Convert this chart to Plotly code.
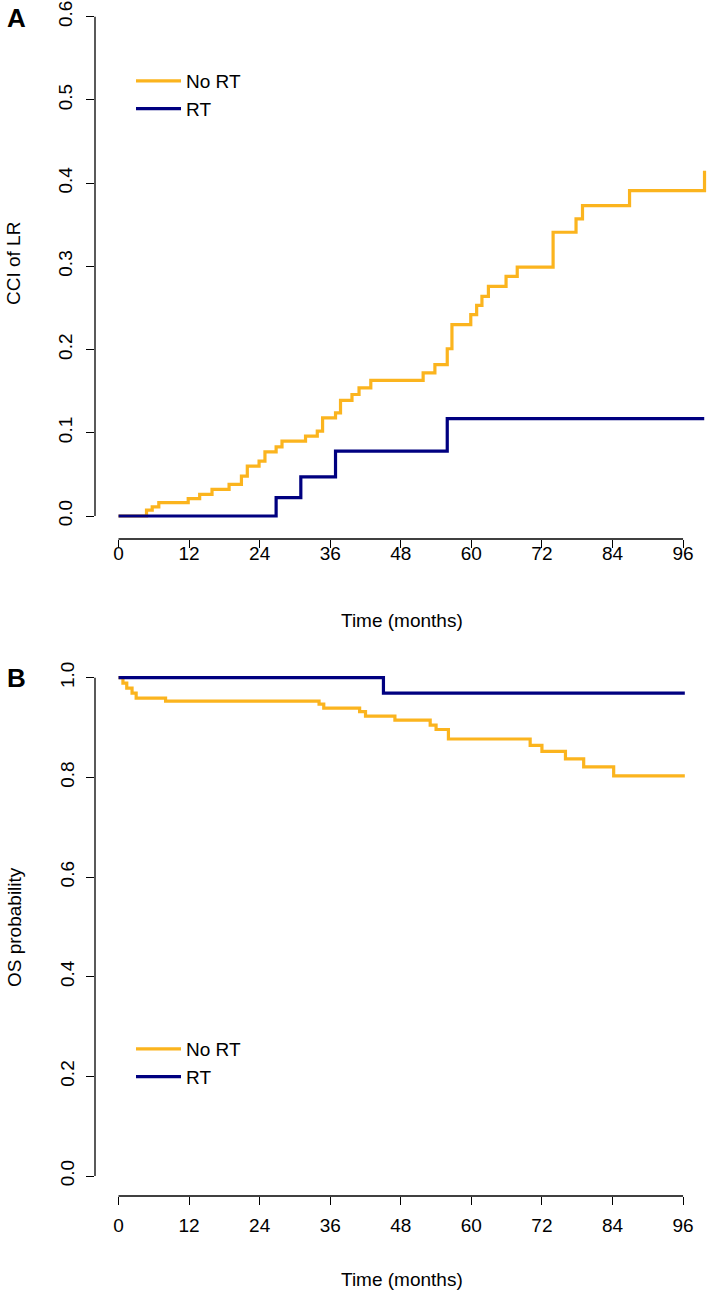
import plotly.graph_objects as go

# ---------------- data ----------------
# Panel A: cumulative incidence of local recurrence
a_norq_t = [0, 4.76, 5.73, 6.85, 11.85, 13.8, 15.9, 18.8, 20.9, 21.9, 23.9, 24.9, 26.8, 27.8,
            31.8, 33.8, 34.7, 36.9, 37.75, 39.7, 40.9, 42.9, 51.8, 53.8, 55.9, 56.7, 59.9,
            60.9, 61.8, 62.9, 65.9, 67.8, 73.9, 77.8, 78.9, 86.9, 99.65]
a_norq_y = [0, 0.007, 0.011, 0.016, 0.021, 0.026, 0.032, 0.038, 0.048, 0.060, 0.066, 0.077,
            0.083, 0.090, 0.096, 0.102, 0.118, 0.124, 0.139, 0.146, 0.154, 0.163, 0.172,
            0.182, 0.201, 0.230, 0.242, 0.253, 0.264, 0.276, 0.288, 0.299, 0.341, 0.357,
            0.373, 0.391, 0.415]
a_rt_t = [0, 26.8, 31.0, 36.9, 55.9, 99.6]
a_rt_y = [0, 0.022, 0.047, 0.078, 0.117, 0.117]

# Panel B: overall survival
b_norq_t = [0, 0.75, 1.4, 2.3, 3.0, 8.0, 34.1, 34.9, 41.0, 42.0, 47.0, 53.0, 54.0, 56.1,
            70.0, 72.0, 76.0, 79.1, 84.2, 96.3]
b_norq_y = [1.0, 0.989, 0.979, 0.969, 0.959, 0.953, 0.947, 0.939, 0.932, 0.923, 0.915,
            0.905, 0.896, 0.877, 0.864, 0.852, 0.837, 0.821, 0.803, 0.803]
b_rt_t = [0, 45.05, 96.3]
b_rt_y = [1.0, 0.969, 0.969]

x_ticks = [0, 12, 24, 36, 48, 60, 72, 84, 96]
a_yticks = [0.0, 0.1, 0.2, 0.3, 0.4, 0.5, 0.6]
b_yticks = [0.0, 0.2, 0.4, 0.6, 0.8, 1.0]

ORANGE = "#FBB41E"
NAVY = "#000080"
FONT = "Liberation Sans, Arial, sans-serif"

# ---------------- figure ----------------
W, H = 709, 1295
ML, MR, MT, MB = 95, 0, 5, 99
plot_h = H - MT - MB


def pf(py):
    """pixel y -> paper fraction"""
    return (H - MB - py) / plot_h


def px(pxv):
    return (pxv - ML) / (W - ML - MR)


fig = go.Figure()
fig.add_trace(go.Scatter(x=a_norq_t, y=a_norq_y, mode="lines", line=dict(color=ORANGE, width=3.2, shape="hv"),
                         name="No RT", xaxis="x", yaxis="y", legend="legend"))
fig.add_trace(go.Scatter(x=a_rt_t, y=a_rt_y, mode="lines", line=dict(color=NAVY, width=3.2, shape="hv"),
                         name="RT", xaxis="x", yaxis="y", legend="legend"))
fig.add_trace(go.Scatter(x=b_norq_t, y=b_norq_y, mode="lines", line=dict(color=ORANGE, width=3.2, shape="hv"),
                         name="No RT", xaxis="x2", yaxis="y2", legend="legend2"))
fig.add_trace(go.Scatter(x=b_rt_t, y=b_rt_y, mode="lines", line=dict(color=NAVY, width=3.2, shape="hv"),
                         name="RT", xaxis="x2", yaxis="y2", legend="legend2"))

xr = [-4.0, -4.0 + (W - ML - MR) / 5.8806]
a_dom = [pf(539), 1.0]
b_dom = [0.0, pf(660)]
a_yr = [-(539 - 516) / 832.2, 0.6 + (16.7 - 5) / 832.2]
b_yr = [-(1196 - 1176) / 498.3, 1.0 + (677.7 - 660) / 498.3]

common_x = dict(range=xr, tickvals=x_ticks, ticks="outside", ticklen=8, tickwidth=1.3,
                tickcolor="black", showline=False, showgrid=False, zeroline=False,
                tickfont=dict(size=19, color="black", family=FONT))
common_y = dict(ticks="outside", ticklen=8, tickwidth=1.3, tickcolor="black", showline=False,
                showgrid=False, zeroline=False, tickangle=-90,
                tickfont=dict(size=19, color="black", family=FONT))

legend_common = dict(xanchor="left", yanchor="top", bgcolor="rgba(0,0,0,0)",
                     font=dict(size=19, family=FONT, color="black"), tracegroupgap=0, itemwidth=45)

fig.update_layout(
    width=W, height=H,
    margin=dict(l=ML, r=MR, t=MT, b=MB),
    paper_bgcolor="white", plot_bgcolor="white",
    font=dict(family=FONT, color="black", size=19),
    xaxis=dict(**common_x, anchor="y", domain=[0, 1], ticklabelstandoff=-11),
    yaxis=dict(**common_y, anchor="x", domain=a_dom, range=a_yr, tickvals=a_yticks,
               ticktext=[f"{v:.1f}" for v in a_yticks], ticklabelstandoff=6),
    xaxis2=dict(**common_x, anchor="y2", domain=[0, 1], ticklabelstandoff=4),
    yaxis2=dict(**common_y, anchor="x2", domain=b_dom, range=b_yr, tickvals=b_yticks,
                ticktext=[f"{v:.1f}" for v in b_yticks], ticklabelstandoff=4),
    legend=dict(x=px(131), y=pf(62), **legend_common),
    legend2=dict(x=px(131), y=pf(1030), **legend_common),
    showlegend=True,
)

# R-style axis lines spanning only the tick range
line_style = dict(color="black", width=1.3)
fig.add_shape(type="line", xref="x", yref="y domain", x0=0, x1=96, y0=0, y1=0, line=line_style)
fig.add_shape(type="line", xref="x domain", yref="y", x0=0, x1=0, y0=0, y1=0.6, line=line_style)
fig.add_shape(type="line", xref="x2", yref="y2 domain", x0=0, x1=96, y0=0, y1=0, line=line_style)
fig.add_shape(type="line", xref="x2 domain", yref="y2", x0=0, x1=0, y0=0, y1=1.0, line=line_style)

# axis titles and panel letters
fig.add_annotation(text="Time (months)", xref="paper", yref="paper", x=px(402), y=pf(620),
                   showarrow=False, font=dict(size=19, family=FONT), xanchor="center", yanchor="middle")
fig.add_annotation(text="Time (months)", xref="paper", yref="paper", x=px(402), y=pf(1279),
                   showarrow=False, font=dict(size=19, family=FONT), xanchor="center", yanchor="middle")
fig.add_annotation(text="CCI of LR", xref="paper", yref="paper", x=px(14), y=pf(264), textangle=-90,
                   showarrow=False, font=dict(size=19, family=FONT), xanchor="center", yanchor="middle")
fig.add_annotation(text="OS probability", xref="paper", yref="paper", x=px(14), y=pf(927), textangle=-90,
                   showarrow=False, font=dict(size=19, family=FONT), xanchor="center", yanchor="middle")
fig.add_annotation(text="<b>A</b>", xref="paper", yref="paper", x=px(16), y=pf(18),
                   showarrow=False, font=dict(size=26, family=FONT), xanchor="center", yanchor="middle")
fig.add_annotation(text="<b>B</b>", xref="paper", yref="paper", x=px(16), y=pf(678),
                   showarrow=False, font=dict(size=26, family=FONT), xanchor="center", yanchor="middle")

fig.write_html("out.html", post_script="document.body.style.margin='0';",
               config={"displayModeBar": False})
